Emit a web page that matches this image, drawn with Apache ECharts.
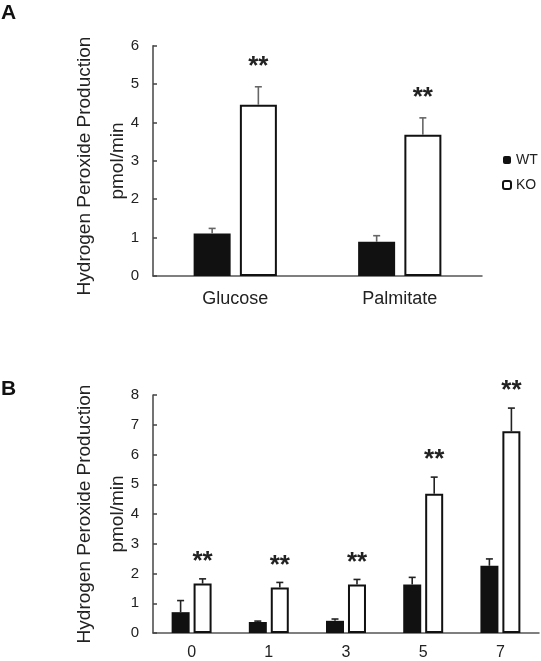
<!DOCTYPE html>
<html>
<head>
<meta charset="utf-8">
<script src="https://cdn.jsdelivr.net/npm/echarts@6/dist/echarts.min.js"></script>
<style>
html,body{margin:0;padding:0;background:#fff;}
#c{width:541px;height:661px;}
</style>
</head>
<body>
<div id="c"></div>
<script>
// ---- Data: panel A ----
const catsA = ['Glucose', 'Palmitate'];
const wtA = [1.11, 0.89];
const wtErrA = [0.13, 0.16];
const koA = [4.46, 3.68];
const koErrA = [0.47, 0.44];
const ticksA = [0, 1, 2, 3, 4, 5, 6];

// ---- Data: panel B ----
const catsB = ['0', '1', '3', '5', '7'];
const wtB = [0.70, 0.37, 0.41, 1.63, 2.26];
const wtErrB = [0.39, 0.03, 0.06, 0.24, 0.23];
const koB = [1.66, 1.53, 1.63, 4.68, 6.78];
const koErrB = [0.16, 0.17, 0.17, 0.56, 0.78];
const ticksB = [0, 1, 2, 3, 4, 5, 6, 7, 8];

const sigA = ['**', '**'];
const sigB = ['**', '**', '**', '**', '**'];

const FONT = '"Liberation Sans", Arial, sans-serif';
const TXT = '#222';

const chart = echarts.init(document.getElementById('c'), null, {renderer: 'canvas'});

function errSeries(gridIdx, vals, errs, offset, color) {
  return {
    type: 'custom',
    xAxisIndex: gridIdx, yAxisIndex: gridIdx,
    z: 5,
    silent: true,
    data: vals.map((v, i) => [i, v, errs[i]]),
    renderItem: function (params, api) {
      const base = api.coord([api.value(0), api.value(1)]);
      const top = api.coord([api.value(0), api.value(1) + api.value(2)]);
      const cx = base[0] + offset;
      const st = {stroke: color, lineWidth: 1.6};
      return {type: 'group', children: [
        {type: 'line', shape: {x1: cx, y1: base[1], x2: cx, y2: top[1]}, style: st},
        {type: 'line', shape: {x1: cx - 3.5, y1: top[1], x2: cx + 3.5, y2: top[1]}, style: st}
      ]};
    }
  };
}

function starSeries(gridIdx, vals, errs, sig, offset, lift) {
  return {
    type: 'custom',
    xAxisIndex: gridIdx, yAxisIndex: gridIdx,
    z: 6,
    silent: true,
    data: vals.map((v, i) => [i, v + errs[i]]),
    renderItem: function (params, api) {
      const p = api.coord([api.value(0), api.value(1)]);
      return {
        type: 'text',
        style: {
          text: sig[params.dataIndex],
          x: p[0] + offset, y: p[1] - lift,
          align: 'center', verticalAlign: 'middle',
          font: 'bold 26px ' + FONT, fill: '#222'
        }
      };
    }
  };
}

function yAxisCfg(gridIdx, ticks) {
  return {
    type: 'value', gridIndex: gridIdx,
    min: ticks[0], max: ticks[ticks.length - 1], interval: ticks[1] - ticks[0],
    axisLine: {show: true, lineStyle: {color: '#444', width: 1.5}},
    axisTick: {show: true, inside: true, length: 4, lineStyle: {color: '#444', width: 1.5}},
    splitLine: {show: false},
    axisLabel: {color: TXT, fontSize: 15, fontFamily: FONT, margin: 14}
  };
}

function xAxisCfg(gridIdx, cats, fs, margin) {
  return {
    type: 'category', gridIndex: gridIdx, data: cats,
    axisLine: {show: true, lineStyle: {color: '#555', width: 1.5}},
    axisTick: {show: false},
    axisLabel: {color: TXT, fontSize: fs, fontFamily: FONT, margin: margin}
  };
}

const option = {
  backgroundColor: '#fff',
  animation: false,
  grid: [
    {left: 153, top: 45.7, width: 329, height: 230.3},
    {left: 153, top: 395, width: 386, height: 240}
  ],
  xAxis: [xAxisCfg(0, catsA, 18, 14), xAxisCfg(1, catsB, 16, 12)],
  yAxis: [yAxisCfg(0, ticksA), yAxisCfg(1, ticksB)],
  legend: {
    data: ['WT', 'KO'],
    orient: 'vertical',
    left: 502, top: 153, padding: 0,
    itemWidth: 8, itemHeight: 8, itemGap: 11,
    selectedMode: false,
    textStyle: {color: TXT, fontSize: 14, fontFamily: FONT}
  },
  graphic: [
    {type: 'text', left: 1, top: 3, style: {text: 'A', font: 'bold 21px ' + FONT, fill: '#111'}},
    {type: 'text', left: 1, top: 379, style: {text: 'B', font: 'bold 21px ' + FONT, fill: '#111'}},
    {type: 'text', x: 85, y: 166, rotation: Math.PI / 2,
      style: {text: 'Hydrogen Peroxide Production', font: '19px ' + FONT, fill: TXT, align: 'center', verticalAlign: 'middle'}},
    {type: 'text', x: 118, y: 161, rotation: Math.PI / 2,
      style: {text: 'pmol/min', font: '19px ' + FONT, fill: TXT, align: 'center', verticalAlign: 'middle'}},
    {type: 'text', x: 85, y: 514, rotation: Math.PI / 2,
      style: {text: 'Hydrogen Peroxide Production', font: '19px ' + FONT, fill: TXT, align: 'center', verticalAlign: 'middle'}},
    {type: 'text', x: 118, y: 514, rotation: Math.PI / 2,
      style: {text: 'pmol/min', font: '19px ' + FONT, fill: TXT, align: 'center', verticalAlign: 'middle'}}
  ],
  series: [
    {name: 'WT', type: 'bar', xAxisIndex: 0, yAxisIndex: 0, data: wtA, barWidth: 37, barGap: '25%',
      itemStyle: {color: '#111'}},
    {name: 'KO', type: 'bar', xAxisIndex: 0, yAxisIndex: 0, data: koA, barWidth: 37, barGap: '25%',
      itemStyle: {color: '#fff', borderColor: '#111', borderWidth: 2}},
    errSeries(0, wtA, wtErrA, -23.1, '#666'),
    errSeries(0, koA, koErrA, 23.1, '#666'),
    starSeries(0, koA, koErrA, sigA, 23.1, 20),

    {name: 'WT', type: 'bar', xAxisIndex: 1, yAxisIndex: 1, data: wtB, barWidth: 18, barGap: '22%',
      itemStyle: {color: '#111'}},
    {name: 'KO', type: 'bar', xAxisIndex: 1, yAxisIndex: 1, data: koB, barWidth: 18, barGap: '22%',
      itemStyle: {color: '#fff', borderColor: '#111', borderWidth: 2}},
    errSeries(1, wtB, wtErrB, -11, '#222'),
    errSeries(1, koB, koErrB, 11, '#222'),
    starSeries(1, koB, koErrB, sigB, 11, 17)
  ]
};
chart.setOption(option);
</script>
</body>
</html>
